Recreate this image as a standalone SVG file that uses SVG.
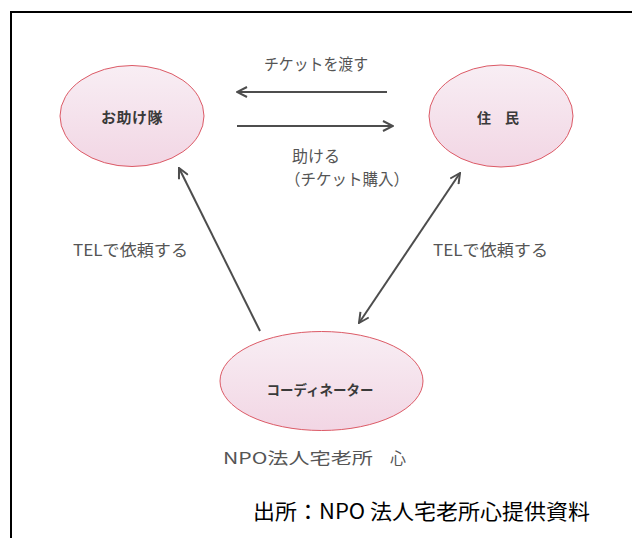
<svg xmlns="http://www.w3.org/2000/svg" width="632" height="538" viewBox="0 0 632 538">
<style>
.node{fill:url(#pink);stroke:#dc5a66;stroke-width:1}
.nt{font-family:"Noto Sans CJK JP","Noto Sans",sans-serif;font-weight:bold;fill:#3a3a3a;text-anchor:middle}
.lbl{font-family:"Noto Sans CJK JP","Noto Sans",sans-serif;fill:#555;font-size:16px}
.conn{stroke:#4d4d4d;stroke-width:2;fill:none}
</style>
<defs>
<linearGradient id="pink" x1="0" y1="0" x2="0" y2="1">
<stop offset="0" stop-color="#f8eef4"/>
<stop offset="1" stop-color="#f2d6e4"/>
</linearGradient>
<marker id="ah" viewBox="0 0 12 12" refX="11" refY="6" markerWidth="12" markerHeight="12" markerUnits="userSpaceOnUse" orient="auto-start-reverse">
<path d="M1,1 L11,6 L1,11" fill="none" stroke="#4d4d4d" stroke-width="2"/>
</marker>
</defs>
<rect x="0" y="0" width="632" height="538" fill="#fff"/>
<rect x="11" y="12" width="640" height="540" fill="none" stroke="#000" stroke-width="2"/>

<g id="otasuke">
<ellipse class="node" cx="132" cy="116" rx="72" ry="50.5"/>
<text class="nt" x="132" y="123" font-size="15" letter-spacing="0.5">お助け隊</text>
</g>
<g id="jumin">
<ellipse class="node" cx="501" cy="116" rx="72" ry="51"/>
<text class="nt" x="498" y="123" font-size="14">住　民</text>
</g>
<g id="coordinator">
<ellipse class="node" cx="321.5" cy="381" rx="101.5" ry="49.5"/>
<text class="nt" x="320" y="395" font-size="13.5">コーディネーター</text>
</g>

<g id="connectors">
<line class="conn" x1="387" y1="92" x2="237" y2="92" marker-end="url(#ah)"/>
<line class="conn" x1="237" y1="126" x2="393" y2="126" marker-end="url(#ah)"/>
<line class="conn" x1="260" y1="331" x2="179" y2="168" marker-end="url(#ah)"/>
<line class="conn" x1="359" y1="323" x2="460" y2="173" marker-start="url(#ah)" marker-end="url(#ah)"/>
</g>

<g id="labels">
<text class="lbl" x="264" y="70" textLength="104" lengthAdjust="spacingAndGlyphs">チケットを渡す</text>
<text class="lbl" x="292" y="162" font-size="15">助ける</text>
<text class="lbl" x="285" y="185" font-size="15" textLength="124" lengthAdjust="spacingAndGlyphs">（チケット購入）</text>
<text class="lbl" x="73" y="256" font-size="17" textLength="115" lengthAdjust="spacingAndGlyphs">TELで依頼する</text>
<text class="lbl" x="433" y="256" font-size="17" textLength="115" lengthAdjust="spacingAndGlyphs">TELで依頼する</text>
<text class="lbl" x="223" y="464" font-size="19"><tspan textLength="150" lengthAdjust="spacingAndGlyphs">NPO法人宅老所</tspan><tspan x="390">心</tspan></text>
<text x="253" y="519" font-family="'Noto Sans CJK JP','Noto Sans',sans-serif" font-size="21" fill="#000" textLength="337" lengthAdjust="spacingAndGlyphs">出所：NPO 法人宅老所心提供資料</text>
</g>
</svg>
